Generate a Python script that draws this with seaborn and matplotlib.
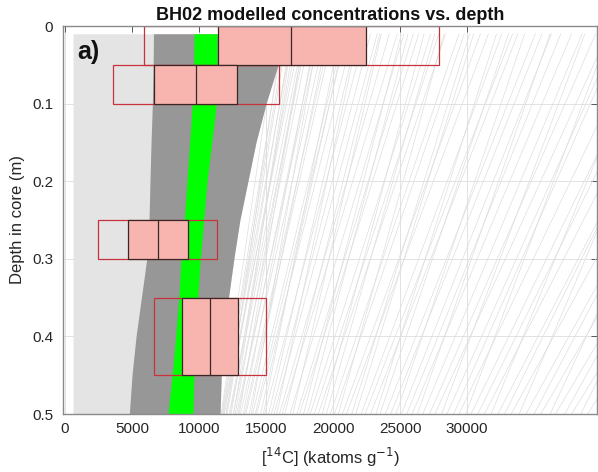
import numpy as np
import pandas as pd
import matplotlib
matplotlib.use("Agg")
import matplotlib.pyplot as plt
import seaborn as sns

# ---------------- data ----------------
band_depth = [0.01, 0.05, 0.10, 0.15, 0.20, 0.25, 0.30, 0.35, 0.40, 0.45, 0.50]
all_left = [600, 600, 600, 600, 600, 600, 600, 600, 600, 600, 600]
dark_left = [6600, 6580, 6520, 6420, 6340, 6270, 6100, 5700, 5300, 5000, 4800]
dark_right = [16700, 15900, 15000, 14250, 13650, 13050, 12600, 12200, 11850, 11660, 11570]
green_left = [9630, 9600, 9500, 9300, 9100, 8900, 8650, 8500, 8250, 8000, 7680]
green_right = [11340, 11340, 11300, 10950, 10600, 10350, 10100, 9900, 9720, 9620, 9550]

# sparse model runs: concentration at top (0.01 m) and bottom (0.5 m)
run_top_depth = 0.01
run_bottom_depth = 0.50
run_top = [16300, 17000, 16600, 17400, 16900, 17800, 17200, 18300, 17900, 18800,
           19400, 18700, 20000, 19600, 20800, 21500, 20900, 22400, 21800, 23300,
           24200, 23500, 25300, 26000, 25100, 27300, 28400, 27600, 29800, 31000,
           30200, 32600, 33800, 33100, 35600, 36300, 37800, 38600, 40500, 41200,
           43000, 44100, 45800, 47000, 48800, 50100, 52000, 53400, 55300, 57000,
           15800, 16500, 17600, 16200, 18100, 17000, 19000, 17900, 19800, 18900,
           21000, 20500, 22800, 21900, 24800, 23600, 26400, 25600, 27900, 26800,
           29400, 28300, 31600, 30500, 33400, 32200, 35100, 34300, 37000, 36200,
           39600, 38800, 41500, 40600, 44800, 43500, 46900, 46000, 50000, 49500,
           53000, 52500]
run_bottom = [11700, 11800, 11900, 12000, 12100, 12250, 12400, 12550, 12700, 12900,
              13100, 13300, 13500, 13750, 14000, 14300, 14600, 14900, 15200, 15600,
              16000, 16400, 16800, 17300, 17800, 18300, 18900, 19500, 20100, 20700,
              21400, 22100, 22800, 23500, 24300, 25100, 25900, 26700, 27600, 28500,
              29400, 30300, 31300, 32300, 33300, 34400, 35500, 36600, 37800, 39000,
              11650, 11750, 11850, 12050, 12300, 12600, 12800, 13000, 13400, 13900,
              14200, 14800, 15400, 15800, 16200, 17000, 17500, 18100, 18600, 19200,
              19800, 20400, 21000, 21700, 22400, 23200, 23900, 24700, 25500, 26300,
              27200, 28100, 29000, 29900, 30800, 31800, 32800, 33900, 35000, 36200,
              37300, 38500]

# measured samples (box plots)
box_top = [0.00, 0.05, 0.25, 0.35]
box_bottom = [0.05, 0.10, 0.30, 0.45]
box_min = [5920, 3600, 2460, 6610]
box_q1 = [11390, 6670, 4730, 8760]
box_med = [16900, 9800, 6970, 10850]
box_q3 = [22440, 12860, 9160, 12930]
box_max = [27930, 15970, 11370, 15000]

x_ticks = [0, 5000, 10000, 15000, 20000, 25000, 30000]
y_ticks = [0, 0.1, 0.2, 0.3, 0.4, 0.5]
y_ticklabels = ["0", "0.1", "0.2", "0.3", "0.4", "0.5"]

# ---------------- drawing ----------------
sns.set_theme(style="white")
plt.rcParams['font.family'] = ['Liberation Sans', 'DejaVu Sans']

fig = plt.figure(figsize=(5.98, 4.72), dpi=100)
ax = fig.add_axes([63/598, 1-414/472, 534/598, 388/472])

ax.set_xlim(-150, 39700)
ax.set_ylim(0.5, 0)

ax.grid(True, color='#e2e2e2', lw=0.7, zorder=0)
ax.set_axisbelow(True)

# sparse runs
rows = []
for i, (t, b) in enumerate(zip(run_top, run_bottom)):
    rows.append({'run': i, 'conc': t, 'depth': run_top_depth})
    rows.append({'run': i, 'conc': b, 'depth': run_bottom_depth})
df = pd.DataFrame(rows)
sns.lineplot(data=df, x='conc', y='depth', units='run', estimator=None, sort=False,
             color='#dedede', lw=0.5, ax=ax, legend=False, zorder=1)

# dense regions
ax.fill_betweenx(band_depth, all_left, dark_right, color='#e4e4e4', lw=0, zorder=2)
ax.fill_betweenx(band_depth, dark_left, dark_right, color='#979797', lw=0, zorder=3)
ax.fill_betweenx(band_depth, green_left, green_right, color='#00ff00', lw=0, zorder=4)

# boxes
centers = [(a + b) / 2 for a, b in zip(box_top, box_bottom)]
heights = [b - a for a, b in zip(box_top, box_bottom)]
ax.barh(centers, [mx - mn for mn, mx in zip(box_min, box_max)], left=box_min,
        height=heights, facecolor='none', edgecolor='#c8323c', lw=0.9, zorder=5)
ax.barh(centers, [q3 - q1 for q1, q3 in zip(box_q1, box_q3)], left=box_q1,
        height=heights, facecolor='#f8b4ae', edgecolor='#3a2626', lw=0.9, zorder=6)
ax.vlines(box_med, box_top, box_bottom, color='#3a2626', lw=0.9, zorder=7)

ax.set_xticks(x_ticks)
ax.set_xticklabels([str(v) for v in x_ticks])
ax.set_yticks(y_ticks)
ax.set_yticklabels(y_ticklabels)
ax.tick_params(direction='in', length=4, width=0.7, color='#555555',
               top=True, right=True, labelsize=11, labelcolor='#262626', pad=7)
ax.tick_params(axis='x', pad=6)
for s in ax.spines.values():
    s.set_color('#8a8a8a')
    s.set_linewidth(1.0)
    s.set_zorder(10)

ax.set_title('BH02 modelled concentrations vs. depth', fontsize=13, fontweight='bold',
             color='#111111', pad=4)
ax.set_xlabel('[$^{14}$C] (katoms g$^{-1}$)', fontsize=12, color='#262626')
ax.set_ylabel('Depth in core (m)', fontsize=12, color='#262626')
ax.xaxis.set_label_coords(0.5, -0.082)
ax.yaxis.set_label_coords(-0.072, 0.5)

ax.text(900, 0.034, 'a)', fontsize=18, fontweight='bold', color='#111111',
        ha='left', va='center', zorder=11)

fig.savefig('out.png', dpi=100)
